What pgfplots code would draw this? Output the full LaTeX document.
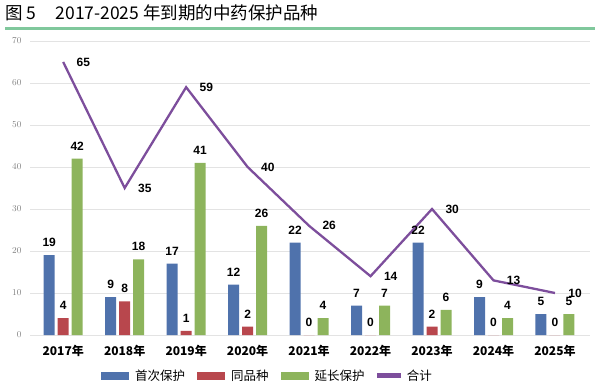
\documentclass[border=0pt]{standalone}
\usepackage{fontspec}
\setmainfont{Liberation Sans}
\newfontfamily\cjk{Noto Sans CJK SC}
\usepackage{pgfplots}
\pgfplotsset{compat=1.18}
\definecolor{cblue}{HTML}{4F72AC}
\definecolor{cred}{HTML}{B8474D}
\definecolor{cgreen}{HTML}{8DB45C}
\definecolor{cpurple}{HTML}{7D4E9C}
\definecolor{crule}{HTML}{80C89C}
\begin{document}
\begin{tikzpicture}[x=1pt,y=1pt]
\useasboundingbox (0,0) rectangle (600,381);
\node[anchor=base west,inner sep=0pt] at (5,361) {\cjk\fontsize{17.5}{17.5}\selectfont 图 5\hspace{1.1em}2017-2025 年到期的中药保护品种};
\fill[crule] (5,351) rectangle (595,354);
\begin{axis}[
  at={(30pt,46pt)}, anchor=south west,
  scale only axis, width=560pt, height=294pt,
  xmin=-0.54, xmax=8.57, ymin=0, ymax=70,
  ybar, bar width=11pt,
  ytick={0,10,...,70},
  xtick={0,...,8},
  xticklabels={2017年,2018年,2019年,2020年,2021年,2022年,2023年,2024年,2025年},
  xticklabel style={font=\cjk\bfseries\fontsize{12}{12}\selectfont, yshift=-7pt},
  yticklabel style={font=\fontsize{9}{9}\selectfont, text=gray, xshift=-5pt},
  axis line style={draw=none},
  major tick length=0pt,
  ymajorgrids, grid style={color=gray!22, line width=0.8pt},
  clip=false,
  legend columns=4,
  legend style={at={(0.424,-0.138)}, anchor=center, draw=none, fill=none,
    font=\cjk\fontsize{12.5}{12.5}\selectfont, column sep=4pt,
    /tikz/every even column/.append style={column sep=10pt}},
  nodes near coords={\pgfmathprintnumber[assume math mode=true]{\pgfplotspointmeta}},
  nodes near coords style={font=\bfseries\fontsize{12}{12}\selectfont, text=black},
]
\addplot[bar shift=-14pt, fill=cblue, draw=none,
  nodes near coords style={yshift=5pt},
  legend image code/.code={\fill[cblue] (0pt,-4pt) rectangle (28pt,4pt);}]
  coordinates {(0,19) (1,9) (2,17) (3,12) (4,22) (5,7) (6,22) (7,9) (8,5)};
\addlegendentry{首次保护}
\addplot[bar shift=0pt, fill=cred, draw=none,
  nodes near coords style={yshift=5pt},
  legend image code/.code={\fill[cred] (0pt,-4pt) rectangle (28pt,4pt);}]
  coordinates {(0,4) (1,8) (2,1) (3,2) (4,0) (5,0) (6,2) (7,0) (8,0)};
\addlegendentry{同品种}
\addplot[bar shift=14pt, fill=cgreen, draw=none,
  nodes near coords style={yshift=5pt},
  legend image code/.code={\fill[cgreen] (0pt,-4pt) rectangle (28pt,4pt);}]
  coordinates {(0,42) (1,18) (2,41) (3,26) (4,4) (5,7) (6,6) (7,4) (8,5)};
\addlegendentry{延长保护}
\addplot[sharp plot, bar shift=0pt, draw=cpurple, line width=2.3pt, mark=none, fill=none,
  nodes near coords style={anchor=west, xshift=9pt},
  legend image code/.code={\fill[cpurple] (0pt,-1pt) rectangle (22pt,1pt);}]
  coordinates {(0,65) (1,35) (2,59) (3,40) (4,26) (5,14) (6,30) (7,13) (8,10)};
\addlegendentry{合计}
\end{axis}
\end{tikzpicture}
\end{document}
